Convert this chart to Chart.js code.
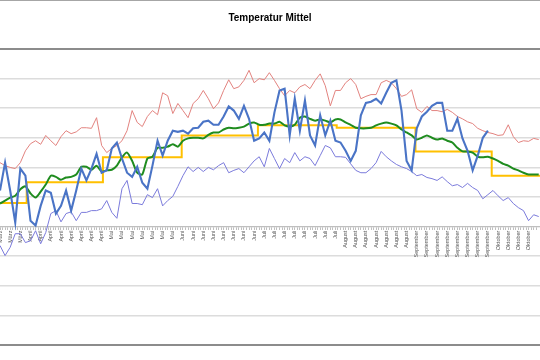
<!DOCTYPE html>
<html>
<head>
<meta charset="utf-8">
<script src="https://cdn.jsdelivr.net/npm/chart.js@4.4.0/dist/chart.umd.min.js"></script>
<style>
html, body { margin: 0; padding: 0; background: #fff; }
#wrap { width: 540px; height: 360px; position: relative; }
</style>
</head>
<body>
<div id="wrap"><canvas id="chart"></canvas></div>
<script>
// Tag 0 = 21. März, Werte alle 2 Tage
const monthNames = ["März", "April", "Mai", "Juni", "Juli", "August", "September", "Oktober"];
const monthStartDays = [0, 11, 41, 72, 102, 133, 164, 194];
const monthlyMean = [4.0, 7.5, 11.7, 15.4, 17.1, 16.7, 12.7, 8.6];

const maxTemp = [10.8, 10.3, 10.0, 9.8, 10.8, 12.8, 14.0, 14.5, 13.9, 15.4,
    14.5, 13.7, 15.2, 16.2, 15.7, 16.0, 16.7, 16.7, 16.6, 18.4,
    13.7, 12.5, 13.2, 13.7, 14.5, 16.2, 19.6, 17.6, 16.9, 18.6,
    19.6, 18.9, 22.6, 22.1, 19.1, 20.8, 19.6, 18.4, 20.8, 21.6,
    23.0, 21.6, 19.9, 20.9, 23.0, 24.8, 23.3, 23.6, 24.7, 26.4,
    24.3, 25.0, 24.8, 26.0, 24.7, 23.3, 22.1, 23.0, 22.6, 23.6,
    24.0, 23.3, 24.7, 25.8, 23.8, 20.4, 23.0, 23.0, 24.3, 25.0,
    24.0, 21.6, 22.0, 22.3, 22.3, 24.3, 24.7, 24.3, 23.3, 22.0,
    22.3, 23.1, 19.9, 19.3, 20.3, 19.6, 19.6, 19.4, 19.8, 19.3,
    18.6, 18.2, 17.7, 17.4, 16.6, 16.2, 15.9, 15.7, 15.4, 15.5,
    17.2, 15.2, 14.2, 14.5, 14.4, 14.9, 14.7];

const minTemp = [-3.2, -4.9, -3.5, -1.2, -1.2, -2.7, -2.4, -0.7, -2.9, -1.0,
    2.2, 2.7, 0.8, 2.2, 2.5, 1.0, 2.4, 2.4, 2.7, 2.7,
    3.0, 4.4, 2.4, 1.4, 6.4, 7.8, 3.9, 3.9, 3.7, 5.4,
    4.9, 6.4, 3.5, 4.4, 5.1, 6.8, 8.6, 10.1, 9.3, 10.0,
    9.3, 10.0, 9.6, 10.3, 10.8, 9.1, 9.5, 9.8, 9.1, 10.1,
    11.1, 11.8, 10.1, 13.2, 11.5, 9.8, 11.5, 10.8, 12.5, 11.1,
    11.8, 11.5, 10.3, 12.0, 13.7, 13.3, 11.8, 11.8, 11.7, 10.6,
    9.5, 9.1, 9.1, 9.8, 10.8, 12.7, 11.8, 11.1, 10.5, 10.1,
    9.8, 9.3, 8.6, 8.8, 8.3, 8.1, 7.8, 8.4, 7.6, 6.9,
    7.1, 6.6, 7.3, 6.6, 6.1, 4.7, 5.4, 6.1, 5.2, 4.4,
    4.9, 3.9, 3.2, 2.7, 1.0, 2.0, 1.7];

const dayMean = [6.1, 10.8, 6.1, 0.7, 9.8, 8.6, 1.0, 0.2, 3.5, 6.1,
    5.7, 2.2, 3.5, 6.1, 2.7, 6.1, 9.8, 7.8, 9.8, 12.3,
    9.1, 9.5, 13.2, 14.2, 11.5, 9.1, 8.4, 10.1, 7.4, 6.4,
    10.3, 14.5, 12.0, 14.5, 16.2, 16.0, 16.2, 15.7, 16.6, 16.7,
    17.7, 17.9, 17.2, 17.2, 18.6, 20.3, 19.6, 18.2, 20.4, 18.2,
    14.5, 14.9, 15.9, 14.5, 19.3, 23.0, 23.3, 15.4, 21.6, 16.2,
    21.3, 15.4, 13.7, 18.8, 15.4, 17.9, 14.5, 14.2, 12.8, 11.1,
    12.8, 18.8, 20.9, 21.1, 21.6, 20.8, 22.6, 24.3, 24.7, 19.6,
    11.1, 9.5, 16.6, 18.6, 19.4, 20.4, 20.9, 20.9, 16.2, 16.2,
    18.2, 14.9, 12.8, 9.5, 12.0, 15.0, 16.2];

const movingMean = [3.9, 4.4, 4.9, 5.2, 6.3, 6.8, 5.6, 4.9, 5.9, 7.1,
    8.6, 8.4, 7.9, 8.3, 8.4, 8.8, 10.1, 10.1, 9.6, 10.3,
    9.3, 9.5, 9.6, 10.3, 11.7, 12.5, 11.1, 9.1, 8.8, 11.5,
    11.8, 13.3, 13.3, 13.5, 13.9, 13.5, 14.5, 14.9, 15.0, 15.0,
    14.9, 15.5, 15.9, 15.9, 16.4, 16.7, 16.6, 16.7, 16.9, 17.4,
    17.6, 17.2, 17.2, 17.4, 17.4, 17.7, 17.1, 16.9, 17.2, 18.4,
    18.6, 18.2, 17.9, 18.1, 17.9, 17.6, 18.1, 18.1, 17.6, 17.2,
    16.7, 16.6, 16.6, 16.7, 17.1, 17.4, 17.6, 17.4, 17.1, 16.4,
    15.9, 15.4, 14.7, 15.0, 15.4, 15.0, 14.7, 14.9, 14.5, 14.2,
    13.3, 12.7, 12.7, 12.5, 11.8, 11.7, 11.8, 11.5, 11.1, 10.6,
    10.3, 9.8, 9.5, 9.1, 8.8, 8.8, 8.8];

const lastDay = 212.5;

function toPoints(values) {
    return values.map((v, i) => ({ x: i * 2, y: v }));
}

function monthOf(day) {
    let k = 0;
    monthStartDays.forEach((d, m) => { if (day >= d) k = m; });
    return monthNames[k];
}

const monthSteps = monthlyMean.map((v, m) => ({ x: m === 0 ? 0 : monthStartDays[m] - 0.5, y: v }));
monthSteps.push({ x: lastDay, y: monthlyMean[monthlyMean.length - 1] });

const isFrame = (c) => c.tick && (c.tick.value === 30 || c.tick.value === -20);

const frameLine = {
    id: "frameLine",
    beforeDraw(chart) {
        const c = chart.ctx;
        c.save();
        c.fillStyle = "#ffffff";
        c.fillRect(0, 0, chart.width, chart.height);
        c.fillStyle = "#a6a6a6";
        c.fillRect(0, 0, chart.width, 1);
        c.restore();
    }
};

const ctx = document.getElementById("chart").getContext("2d");

new Chart(ctx, {
    type: "line",
    data: {
        datasets: [
            {
                label: "Mittel",
                data: toPoints(dayMean),
                borderColor: "#4a74c6",
                borderWidth: 2.1,
                pointRadius: 0,
                order: 1
            },
            {
                label: "Gleitendes Mittel",
                data: toPoints(movingMean),
                borderColor: "#1f8c1f",
                borderWidth: 2,
                pointRadius: 0,
                tension: 0.2,
                order: 2
            },
            {
                label: "Monatsmittel",
                data: monthSteps,
                borderColor: "#ffc000",
                borderWidth: 2,
                pointRadius: 0,
                stepped: "before",
                order: 3
            },
            {
                label: "Minimum",
                data: toPoints(minTemp),
                borderColor: "#7b7bdc",
                borderWidth: 1,
                pointRadius: 0,
                order: 4
            },
            {
                label: "Maximum",
                data: toPoints(maxTemp),
                borderColor: "#e3837f",
                borderWidth: 1,
                pointRadius: 0,
                order: 5
            }
        ]
    },
    options: {
        responsive: true,
        maintainAspectRatio: false,
        animation: false,
        layout: { padding: { top: 0, bottom: 15, left: 0, right: 0 } },
        scales: {
            x: {
                type: "linear",
                position: { y: 0 },
                min: 0,
                max: lastDay,
                afterFit: (s) => { s.paddingLeft = 0; s.paddingRight = 0; },
                ticks: {
                    stepSize: 1,
                    autoSkip: false,
                    minRotation: 90,
                    maxRotation: 90,
                    padding: 1,
                    color: "#595959",
                    font: { family: "Liberation Sans", size: 5.5 },
                    callback: (v) => (Number.isInteger(v) && v % 4 === 0) ? monthOf(v) : ""
                },
                grid: { drawOnChartArea: false, color: "#bfbfbf", tickLength: 3 },
                border: { color: "#bfbfbf" }
            },
            y: {
                min: -20,
                max: 30,
                ticks: { display: false, stepSize: 5 },
                border: { display: false },
                grid: {
                    drawTicks: false,
                    color: (c) => isFrame(c) ? "#8c8c8c" : "#dcdcdc",
                    lineWidth: (c) => isFrame(c) ? 2 : 1.5
                }
            }
        },
        plugins: {
            legend: { display: false },
            tooltip: { enabled: false },
            title: {
                display: true,
                text: "Temperatur Mittel",
                color: "#000000",
                font: { family: "Liberation Sans", size: 10, weight: "bold" },
                padding: { top: 12, bottom: 25 }
            }
        }
    },
    plugins: [frameLine]
});
</script>
</body>
</html>
